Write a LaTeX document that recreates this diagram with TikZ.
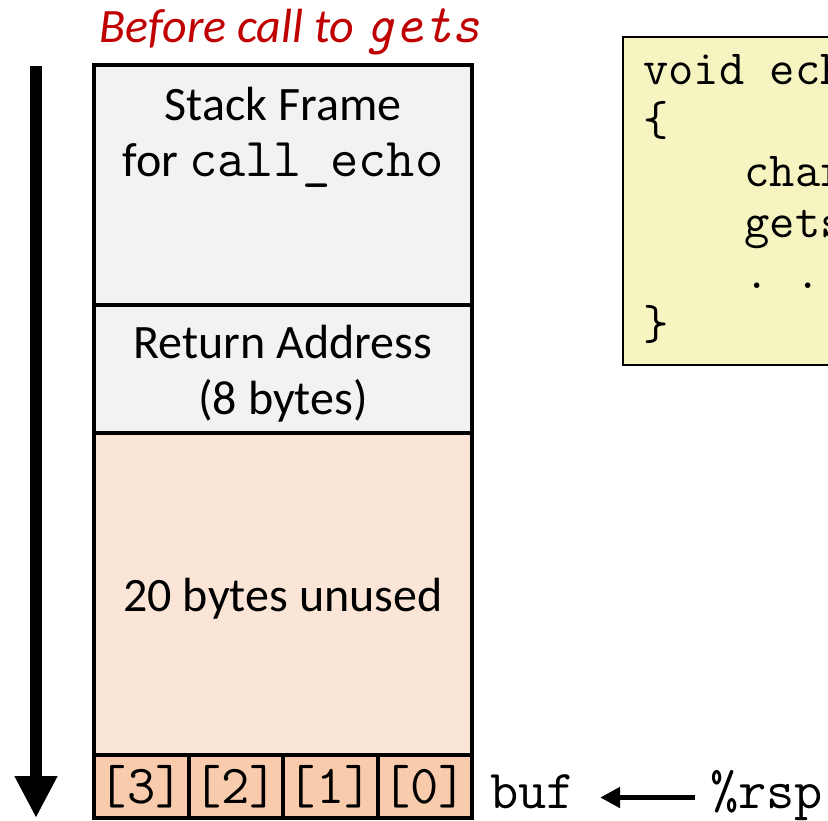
\documentclass[tikz,border=0pt]{standalone}
\usepackage{fontspec}
\setmainfont{Carlito}
\setmonofont[Scale=1.143]{Latin Modern Mono}
\usetikzlibrary{arrows.meta}
\definecolor{framegray}{HTML}{F2F2F2}
\definecolor{unusedpeach}{HTML}{FBE5D6}
\definecolor{cellpeach}{HTML}{F8CBAD}
\definecolor{codeyellow}{HTML}{F6F4C0}
\definecolor{titlered}{HTML}{C00000}
\tikzstyle{slot} = [draw, line width=4pt, rectangle, minimum width=378pt, inner sep=0pt]
\tikzstyle{cell} = [draw, line width=4pt, fill=cellpeach, minimum width=94.5pt, minimum height=63pt, inner sep=0pt, font=\fontsize{48}{56}\selectfont\ttfamily]
\tikzstyle{big} = [font=\fontsize{48}{56}\selectfont, inner sep=0pt]
\tikzstyle{reg} = [font=\fontsize{48}{56}\selectfont\ttfamily, inner sep=0pt, text height=30pt, text depth=9pt]
\tikzstyle{growth} = [line width=12pt, -{Triangle[length=42pt,width=40pt]}]
\tikzstyle{ptr} = [line width=5pt, -{Triangle[length=20pt,width=20pt]}, shorten >=25pt, shorten <=15pt]

\begin{document}
\begin{tikzpicture}[x=1pt,y=-1pt]
			\useasboundingbox (0,0) rectangle (828,820);
			\clip (0,0) rectangle (828,820);
			% title
			\node[big, anchor=base, text=titlered, font=\fontsize{48}{56}\selectfont\itshape] (title) at (290,42) {Before call to \texttt{\slshape gets}};
			% stack
			\node[slot, fill=framegray, minimum height=240pt] (frame) at (283,185) {};
			\node[slot, fill=framegray, minimum height=128pt] (ret) at (283,369) {};
			\node[slot, fill=unusedpeach, minimum height=322pt] (unused) at (283,594) {};
			\node[big, anchor=base] (framea) at (283,120) {Stack Frame};
			\node[big, anchor=base] (frameb) at (283,176) {for \texttt{call\_echo}};
			\node[big, anchor=base] (reta) at (283,358) {Return Address};
			\node[big, anchor=base] (retb) at (283,414) {(8 bytes)};
			\node[big, anchor=base] (unusedlbl) at (283,611) {20 bytes unused};
			\node[cell] (b3) at (141.25,786.5) {[3]};
			\node[cell] (b2) at (235.75,786.5) {[2]};
			\node[cell] (b1) at (330.25,786.5) {[1]};
			\node[cell] (b0) at (424.75,786.5) {[0]};
			% direction of growth
			\coordinate (gtop) at (36,66);
			\coordinate (gbot) at (36,818);
			\draw [growth] (gtop) -- (gbot);
			% pointer
			\node[reg, anchor=base west] (buf) at (490,808) {buf};
			\node[reg, anchor=base west] (rsp) at (710,808) {\%rsp};
			\draw [ptr] (rsp.west) -- (buf.east);
			% code
			\node[draw, line width=2pt, fill=codeyellow, minimum width=260pt, minimum height=328pt, anchor=north west] (code) at (622,36) {};
			\node[anchor=north west, align=left, inner sep=0pt, font=\fontsize{43}{51}\selectfont\ttfamily] (src) at (643,54) {void ech\\\{\\\phantom{xxxx}char\\\phantom{xxxx}gets\\\phantom{xxxx}. .\\\}};
		\end{tikzpicture}
\end{document}
